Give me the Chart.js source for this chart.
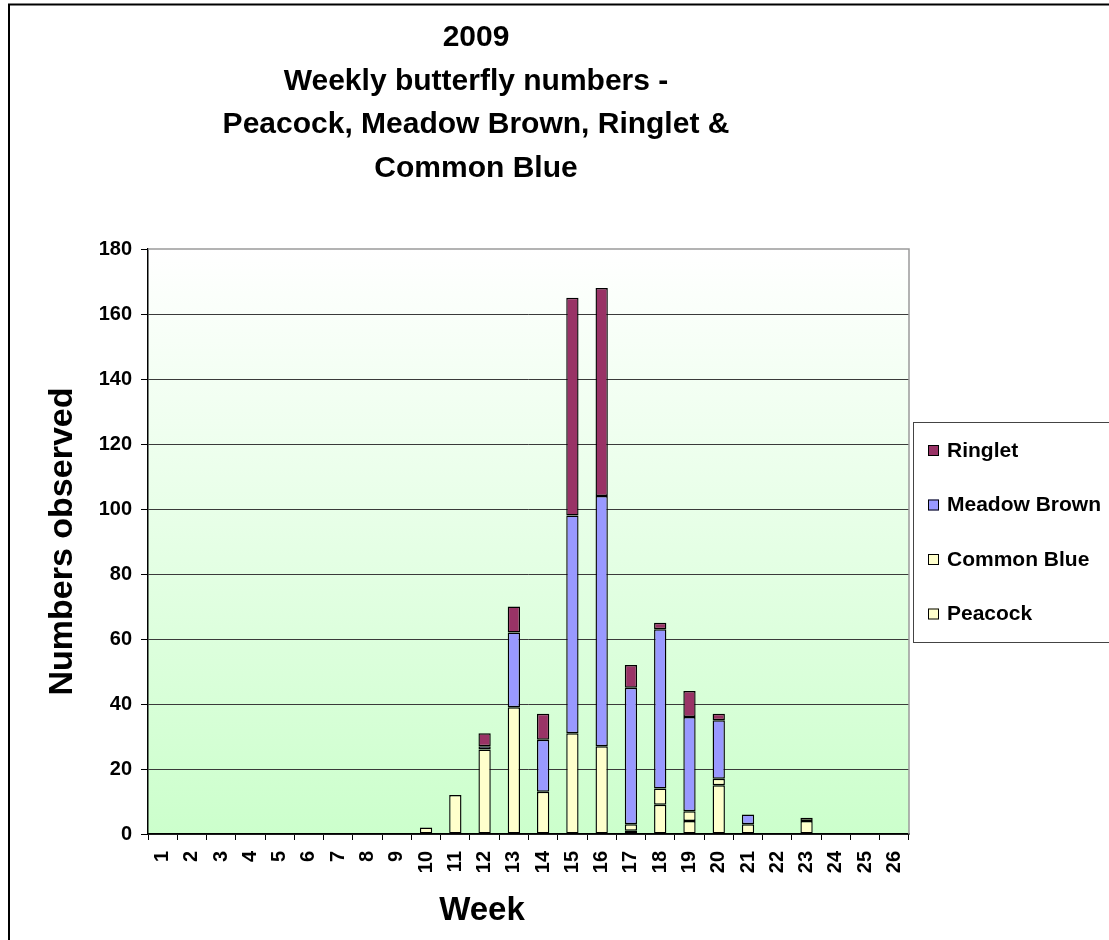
<!DOCTYPE html>
<html>
<head>
<meta charset="utf-8">
<title>2009 Weekly butterfly numbers</title>
<script src="https://cdn.jsdelivr.net/npm/chart.js@4/dist/chart.umd.min.js"></script>
<style>
  html, body { margin: 0; padding: 0; background: #ffffff; }
  #wrap { width: 1109px; height: 940px; }
</style>
</head>
<body>
<div id="wrap"><canvas id="chart" width="1109" height="940"></canvas></div>
<script>
// Weekly counts per species, 2009 season (weeks 1-26)
const weeks = ['1','2','3','4','5','6','7','8','9','10','11','12','13',
               '14','15','16','17','18','19','20','21','22','23','24','25','26'];
const peacock     = [0,0,0,0,0,0,0,0,0, 2,12,26,39,13,31,27, 1, 9, 4,15, 3,0,4,0,0,0];
const commonBlue  = [0,0,0,0,0,0,0,0,0, 0, 0, 0, 0, 0, 0, 0, 2, 5, 3, 2, 0,0,1,0,0,0];
const meadowBrown = [0,0,0,0,0,0,0,0,0, 0, 0, 1,23,16,67,77,42,49,29,18, 3,0,0,0,0,0];
const ringlet     = [0,0,0,0,0,0,0,0,0, 0, 0, 4, 8, 8,67,64, 7, 2, 8, 2, 0,0,0,0,0,0];

const titleLines = ['2009', 'Weekly butterfly numbers -', 'Peacock, Meadow Brown, Ringlet &', 'Common Blue'];

const FONT = "'Liberation Sans', Arial, Helvetica, sans-serif";

// Page frame, plot gradient and plot outline
const framePlugin = {
  id: 'frame',
  beforeDraw(chart) {
    const { ctx, chartArea: a, width, height } = chart;
    ctx.save();
    ctx.fillStyle = '#ffffff';
    ctx.fillRect(0, 0, width, height);
    ctx.strokeStyle = '#000000';
    ctx.lineWidth = 2;
    ctx.strokeRect(9, 4.5, width + 20, height + 20);
    const g = ctx.createLinearGradient(0, a.top, 0, a.bottom);
    g.addColorStop(0, '#ffffff');
    g.addColorStop(1, '#ccffcc');
    ctx.fillStyle = g;
    ctx.fillRect(a.left, a.top, a.right - a.left, a.bottom - a.top);
    ctx.restore();
  },
  afterDraw(chart) {
    const { ctx, chartArea: a } = chart;
    ctx.save();
    ctx.strokeStyle = '#9a9a9a';
    ctx.lineWidth = 1.5;
    ctx.beginPath();
    ctx.moveTo(a.left, a.top);
    ctx.lineTo(a.right, a.top);
    ctx.lineTo(a.right, a.bottom);
    ctx.stroke();
    ctx.restore();
  }
};

// "Week" axis caption
const xCaptionPlugin = {
  id: 'xCaption',
  afterDraw(chart) {
    const { ctx } = chart;
    ctx.save();
    ctx.fillStyle = '#000';
    ctx.font = 'bold 33px ' + FONT;
    ctx.textAlign = 'center';
    ctx.textBaseline = 'alphabetic';
    ctx.fillText('Week', 482, 920);
    ctx.restore();
  }
};

// Boxed legend on the right, series listed top of stack first
const legendBoxPlugin = {
  id: 'legendBox',
  afterDraw(chart) {
    const { ctx } = chart;
    const sets = chart.data.datasets.slice().reverse();
    ctx.save();
    ctx.fillStyle = '#ffffff';
    ctx.fillRect(913, 422, 220, 220);
    ctx.strokeStyle = '#444';
    ctx.lineWidth = 1;
    ctx.strokeRect(913.5, 422.5, 220, 220);
    ctx.font = 'bold 21px ' + FONT;
    ctx.textBaseline = 'middle';
    ctx.textAlign = 'left';
    sets.forEach((ds, i) => {
      const cy = 451 + i * 54.5;
      ctx.fillStyle = ds.backgroundColor;
      ctx.fillRect(928, cy - 6, 11, 11);
      ctx.strokeStyle = '#000';
      ctx.lineWidth = 1;
      ctx.strokeRect(928.5, cy - 5.5, 10, 10);
      ctx.fillStyle = '#000';
      ctx.fillText(ds.label, 947, cy);
    });
    ctx.restore();
  }
};

// zero counts draw nothing at all
const present = arr => arr.map(v => (v ? v : null));

new Chart(document.getElementById('chart'), {
  type: 'bar',
  data: {
    labels: weeks,
    datasets: [
      { label: 'Peacock',      data: present(peacock),     backgroundColor: '#ffffcc' },
      { label: 'Common Blue',  data: present(commonBlue),  backgroundColor: '#ffffcc' },
      { label: 'Meadow Brown', data: present(meadowBrown), backgroundColor: '#9999ff' },
      { label: 'Ringlet',      data: present(ringlet),     backgroundColor: '#993366' }
    ].map(d => Object.assign(d, {
      borderColor: '#000000',
      borderWidth: 1.4,
      borderSkipped: false,
      categoryPercentage: 1,
      barPercentage: 0.42
    }))
  },
  options: {
    responsive: false,
    animation: false,
    devicePixelRatio: 1,
    layout: { padding: { top: 16, left: 43, right: 200, bottom: 0 } },
    plugins: {
      legend: { display: false },
      tooltip: { enabled: false },
      title: {
        display: true,
        text: titleLines,
        color: '#000',
        font: { family: FONT, size: 30, weight: 'bold', lineHeight: 1.45 },
        padding: { top: 0, bottom: 59 }
      }
    },
    scales: {
      x: {
        stacked: true,
        grid: { display: true, drawOnChartArea: false, offset: true, color: '#000', tickLength: 6 },
        border: { color: '#000', width: 1.5 },
        ticks: {
          color: '#000',
          font: { family: FONT, size: 20, weight: 'bold' },
          minRotation: 90, maxRotation: 90,
          padding: 11,
          autoSkip: false
        },
        afterFit(s) { s.height = 106; }
      },
      y: {
        stacked: true,
        min: 0, max: 180,
        ticks: {
          stepSize: 20,
          color: '#000',
          font: { family: FONT, size: 20, weight: 'bold' },
          padding: 9
        },
        grid: {
          color: c => (c.tick && c.tick.value === 180 ? 'rgba(0,0,0,0)' : '#3a3a3a'),
          tickColor: '#000',
          tickLength: 7,
          lineWidth: 1
        },
        border: { color: '#000', width: 1.5 },
        title: {
          display: true,
          text: 'Numbers observed',
          color: '#000',
          font: { family: FONT, size: 34, weight: 'bold', lineHeight: 1.15 },
          padding: { top: 0, bottom: 0 }
        },
        afterFit(s) { s.width = 105; }
      }
    }
  },
  plugins: [framePlugin, xCaptionPlugin, legendBoxPlugin]
});
</script>
</body>
</html>
